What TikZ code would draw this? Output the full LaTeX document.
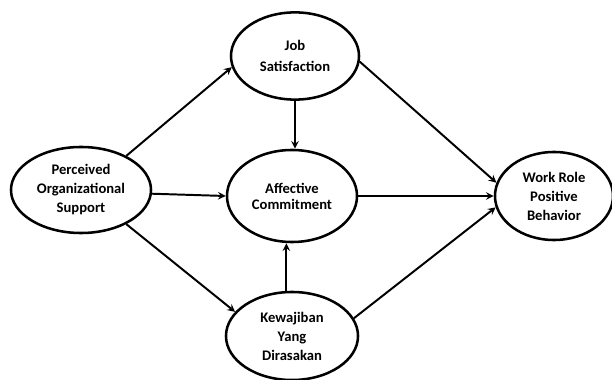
\documentclass[tikz,border=0pt]{standalone}
\usepackage{fontspec}
\setmainfont{Carlito}
\usepackage{tikz}
\usetikzlibrary{shapes,arrows,positioning}

\begin{document}
\begin{tikzpicture}[
    x=0.025cm, y=-0.025cm,
    latent/.style={ellipse, draw, line width=1.8pt, inner sep=0pt, align=center,
        font=\fontsize{10.4}{13.5}\selectfont\bfseries},
    arrow/.style={->, line width=1.4pt, >=stealth},
]
\useasboundingbox (0,0) rectangle (612,380);

% Constructs
\node[latent, minimum width=3.5cm, minimum height=2.15cm] (pos) at (81,190) {Perceived\\Organizational\\Support};
\node[latent, minimum width=3.2cm, minimum height=2.18cm] (js) at (295,56) {Job\\[2pt]Satisfaction};
\node[latent, minimum width=3.25cm, minimum height=2.3cm] (ac) at (292,196) {Affective\\[-2pt]Commitment};
\node[latent, minimum width=3.3cm, minimum height=2.2cm] (kyd) at (292,336) {Kewajiban\\Yang\\Dirasakan};
\node[latent, minimum width=2.95cm, minimum height=2.2cm] (wrpb) at (554,196) {Work Role\\Positive\\Behavior};

% Paths
\draw[arrow] (pos.37) -- (js.190);
\draw[arrow] (pos.-3) -- (ac.west);
\draw[arrow] (pos.-37) -- (kyd.157);
\draw[arrow] (js.south) -- (js.south |- ac.north);
\draw[arrow] ([xshift=-4]kyd.north) -- ([xshift=-4]kyd.north |- ac.south);
\draw[arrow] (js.-5) -- (wrpb.167);
\draw[arrow] (ac.east) -- (wrpb.180);
\draw[arrow] (kyd.16) -- (wrpb.191);

\end{tikzpicture}
\end{document}
